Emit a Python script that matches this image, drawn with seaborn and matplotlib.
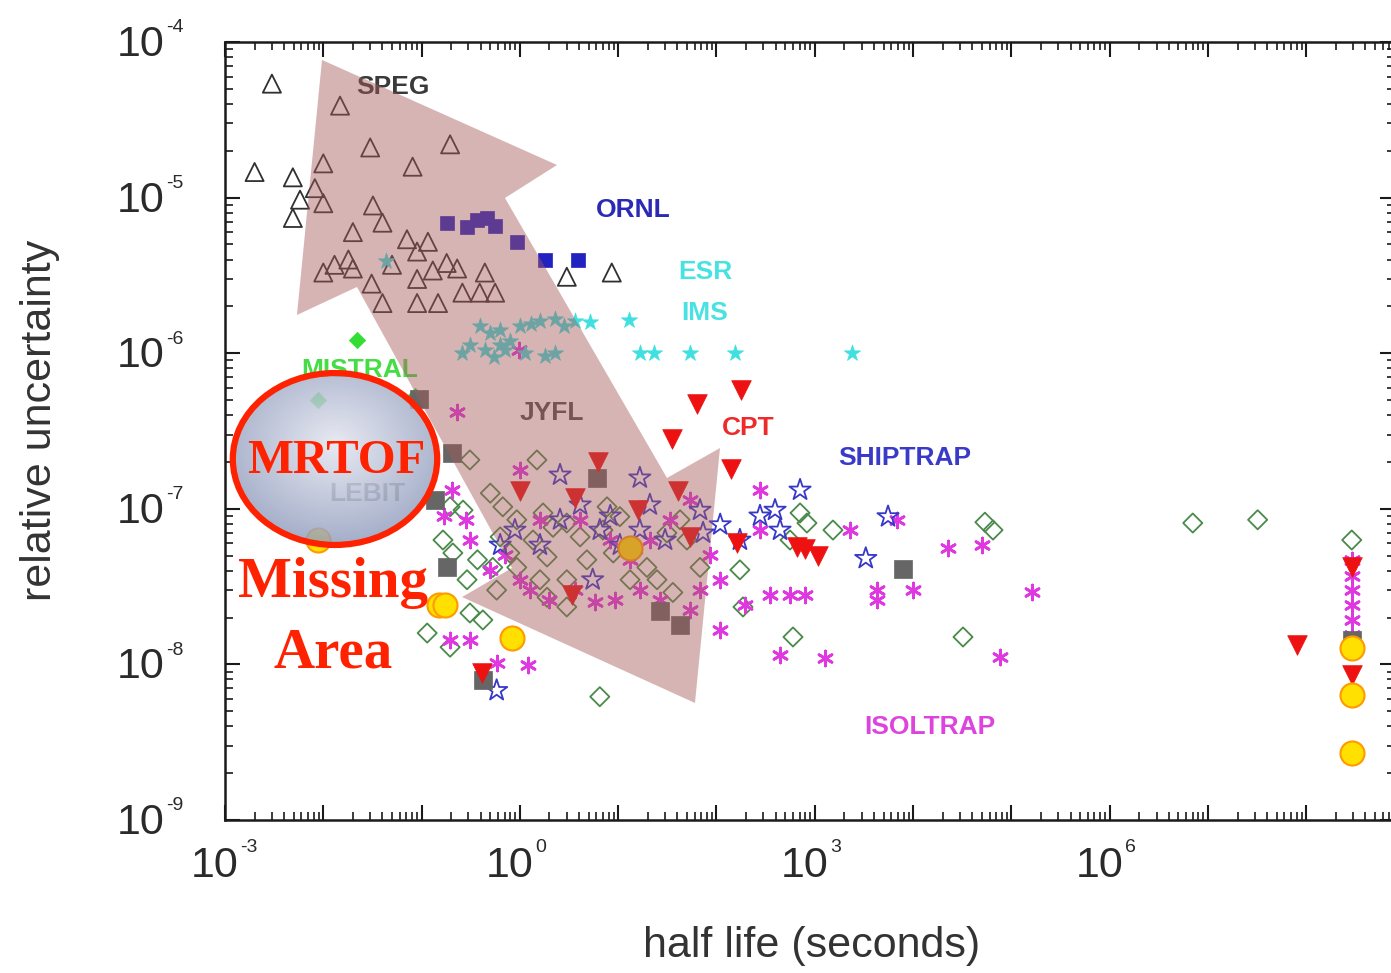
import numpy as np
import pandas as pd
import matplotlib
matplotlib.use('Agg')
import matplotlib.pyplot as plt
import matplotlib.transforms as mtransforms
from matplotlib.patches import Polygon, Ellipse
from matplotlib.ticker import LogLocator, NullFormatter
import seaborn as sns

sns.set_style('ticks')
plt.rcParams['font.family'] = ['Liberation Sans', 'DejaVu Sans']

# ---- data (half life in s, relative uncertainty) ----
speg_hl = [3.0e-3, 1.48e-2, 3.0e-2, 0.195, 1.0e-2, 0.081, 2.0e-3, 4.9e-3, 8.2e-3, 5.8e-3,
           1.0e-2, 4.9e-3, 3.2e-2, 4.0e-2, 2.0e-2, 7.1e-2, 0.116, 0.090, 1.0e-2, 1.3e-2,
           1.8e-2, 2.0e-2, 3.1e-2, 4.0e-2, 5.0e-2, 0.090, 0.090, 0.147, 0.13, 0.18,
           0.23, 0.26, 0.44, 0.39, 0.56, 3.0, 8.6]
speg_unc = [5.4e-5, 3.9e-5, 2.1e-5, 2.2e-5, 1.66e-5, 1.58e-5, 1.46e-5, 1.35e-5, 1.15e-5, 9.7e-6,
            9.2e-6, 7.4e-6, 8.9e-6, 6.9e-6, 6.0e-6, 5.4e-6, 5.2e-6, 4.5e-6, 3.3e-6, 3.7e-6,
            4.0e-6, 3.5e-6, 2.8e-6, 2.1e-6, 3.7e-6, 3.0e-6, 2.1e-6, 2.1e-6, 3.4e-6, 3.8e-6,
            3.5e-6, 2.45e-6, 3.3e-6, 2.45e-6, 2.45e-6, 3.1e-6, 3.3e-6]

ornl_hl = [0.18, 0.29, 0.37, 0.46, 0.56, 0.93, 1.8, 3.9]
ornl_unc = [6.9e-6, 6.5e-6, 7.2e-6, 7.4e-6, 6.6e-6, 5.2e-6, 4.0e-6, 4.0e-6]

esr_hl = [0.043, 0.39, 0.63, 1.0, 1.6, 2.3, 3.6, 5.2, 0.31, 0.44, 0.63, 0.80, 1.12, 1.8,
          2.3, 0.26, 13, 16.6, 23, 54, 155, 2400, 0.55, 0.7, 1.3, 0.5, 2.8]
esr_unc = [3.9e-6, 1.5e-6, 1.4e-6, 1.5e-6, 1.6e-6, 1.65e-6, 1.6e-6, 1.58e-6, 1.13e-6, 1.05e-6,
           1.13e-6, 1.2e-6, 1.0e-6, 9.6e-7, 1.0e-6, 1.0e-6, 1.63e-6, 1.0e-6, 1.0e-6, 1.0e-6,
           1.0e-6, 1.0e-6, 9.5e-7, 1.05e-6, 1.55e-6, 1.35e-6, 1.5e-6]

mistral_hl = [0.022, 8.8e-3, 0.085]
mistral_unc = [1.22e-6, 5.0e-7, 5.3e-7]

lebit_hl = [0.204, 0.137, 0.181, 0.095, 6.1, 26.6, 42.6, 7900, 0.42, 2.9e8]
lebit_unc = [2.3e-7, 1.14e-7, 4.2e-8, 5.1e-7, 1.58e-7, 2.2e-8, 1.78e-8, 4.1e-8, 7.9e-9, 1.44e-8]

jyfl_hl = [1.49, 0.31, 0.50, 0.67, 0.93, 1.72, 2.17, 1.36, 0.63, 0.79, 1.89, 3.0, 4.1, 7.7,
           10.4, 7.0, 8.9, 4.8, 14.1, 13.2, 19.6, 24.8, 42.6, 31.3, 50, 68, 36, 3.0, 1.6,
           0.93, 0.58, 3.0, 1.89, 0.195, 0.264, 0.165, 0.208, 0.37, 0.53, 0.29, 0.31, 0.42,
           0.114, 0.195, 6.5, 173, 186, 600, 1530, 708, 832, 560, 32200, 53800, 65000,
           7.0e6, 3.2e7, 2.9e8]
jyfl_unc = [2.06e-7, 2.06e-7, 1.26e-7, 1.03e-7, 8.5e-8, 9.4e-8, 7.6e-8, 6.3e-8, 6.6e-8, 5.2e-8,
            4.9e-8, 8.1e-8, 6.6e-8, 1.03e-7, 8.9e-8, 7.3e-8, 5.2e-8, 4.7e-8, 5.2e-8, 3.5e-8,
            4.2e-8, 3.5e-8, 8.5e-8, 7.0e-8, 6.3e-8, 4.2e-8, 2.9e-8, 3.5e-8, 3.5e-8, 4.2e-8,
            3.0e-8, 2.34e-8, 2.7e-8, 1.03e-7, 9.8e-8, 6.3e-8, 5.2e-8, 4.7e-8, 4.2e-8, 3.5e-8,
            2.14e-8, 1.93e-8, 1.59e-8, 1.29e-8, 6.2e-9, 4.05e-8, 2.34e-8, 1.5e-8, 7.3e-8, 9.4e-8,
            8.1e-8, 6.3e-8, 1.5e-8, 8.2e-8, 7.3e-8, 8.1e-8, 8.5e-8, 6.3e-8]

cpt_hl = [178, 63, 35, 140, 6.2, 1.0, 3.6, 40.6, 15.9, 54, 162, 660, 795, 1070, 3.4, 0.41,
          8.0e7, 2.9e8, 2.9e8]
cpt_unc = [5.8e-7, 4.7e-7, 2.8e-7, 1.8e-7, 2.0e-7, 1.3e-7, 1.18e-7, 1.3e-7, 9.8e-8, 6.6e-8,
           6.0e-8, 5.7e-8, 5.5e-8, 5.0e-8, 2.8e-8, 8.8e-9, 1.33e-8, 4.2e-8, 8.5e-9]

circ_hl = [8.8e-3, 0.15, 0.175, 0.83, 13.2, 2.9e8, 2.9e8, 2.9e8]
circ_unc = [6.3e-8, 2.4e-8, 2.4e-8, 1.48e-8, 5.6e-8, 1.27e-8, 6.4e-9, 2.7e-9]

ship_hl = [2.56, 16.6, 708, 5560, 3300, 0.58, 5.5, 2.56, 4.1, 6.5, 10.4, 21, 30, 68, 109,
           277, 443, 394, 1.6, 0.89, 0.63, 16.6, 73, 173, 8.3]
ship_unc = [1.65e-7, 1.58e-7, 1.32e-7, 8.9e-8, 4.8e-8, 6.8e-9, 3.5e-8, 8.5e-8, 1.06e-7, 7.3e-8,
            5.85e-8, 1.06e-7, 6.3e-8, 9.8e-8, 7.9e-8, 9.0e-8, 7.3e-8, 9.8e-8, 5.85e-8, 7.3e-8,
            5.85e-8, 7.3e-8, 7.0e-8, 6.3e-8, 9.0e-8]

isol_hl = [0.23, 0.98, 0.204, 109, 443, 1270, 560, 795, 350, 109, 195, 2280, 4300, 4300, 6850,
           9980, 22600, 50000, 162000, 76600, 277, 86, 68, 54, 26.6, 16.6, 9.3, 5.8, 3.6, 2.0,
           1.27, 1.0, 0.70, 0.50, 0.31, 0.28, 0.17, 1.0, 1.6, 4.1, 8.3, 13.2, 21, 33.6, 54,
           277, 0.195, 0.31, 1.21, 0.58, 2.9e8, 2.9e8, 2.9e8, 2.9e8, 2.9e8, 2.9e8]
isol_unc = [4.2e-7, 1.05e-6, 1.32e-7, 1.66e-8, 1.15e-8, 1.1e-8, 2.8e-8, 2.8e-8, 2.8e-8, 3.5e-8,
            2.4e-8, 7.3e-8, 3.0e-8, 2.6e-8, 8.5e-8, 3.0e-8, 5.6e-8, 5.85e-8, 2.9e-8, 1.12e-8,
            7.3e-8, 5.05e-8, 3.0e-8, 2.24e-8, 2.6e-8, 3.0e-8, 2.6e-8, 2.5e-8, 3.0e-8, 2.6e-8,
            3.0e-8, 3.5e-8, 5.05e-8, 4.05e-8, 6.3e-8, 8.5e-8, 9.0e-8, 1.77e-7, 8.5e-8, 8.5e-8,
            6.3e-8, 4.7e-8, 6.3e-8, 8.5e-8, 1.14e-7, 1.32e-7, 1.43e-8, 1.43e-8, 9.9e-9, 1.02e-8,
            4.7e-8, 3.7e-8, 3.0e-8, 2.4e-8, 1.93e-8, 1.55e-8]

x_decades = [-3, 0, 3, 6]
y_decades = [-4, -5, -6, -7, -8, -9]

# ---- figure ----
fig = plt.figure(figsize=(13.91, 9.73), dpi=100)
ax = fig.add_axes([0.16175, 0.15725, 0.8411, 0.7996])
ax.set_xscale('log')
ax.set_yscale('log')


def scat(x, y, marker, s, face, edge, lw=1.3, z=3):
    df = pd.DataFrame({'hl': x, 'unc': y})
    sns.scatterplot(data=df, x='hl', y='unc', ax=ax, marker=marker, s=s, color=edge,
                    facecolor=face, edgecolor=edge, linewidth=lw, zorder=z, legend=False)


scat(jyfl_hl, jyfl_unc, 'D', 95, 'none', '#4a8a4a', 1.3)
scat(isol_hl, isol_unc, (6, 2, 0), 115, '#e038e0', '#e038e0', 2.0)
scat(ship_hl, ship_unc, '*', 260, 'none', '#3838c8', 1.3)
scat(speg_hl, speg_unc, '^', 170, 'none', '#303030', 1.3)
scat(ornl_hl, ornl_unc, 's', 95, '#2222c0', '#2222c0', 0.5)
scat(esr_hl, esr_unc, '*', 150, '#40e0e0', '#40e0e0', 0.5)
scat(mistral_hl, mistral_unc, 'D', 70, '#33dd33', '#33dd33', 0.5)
scat(lebit_hl, lebit_unc, 's', 170, '#666666', '#666666', 0.5)
scat(cpt_hl, cpt_unc, 'v', 200, '#ee1111', '#ee1111', 0.5)
scat(circ_hl, circ_unc, 'o', 300, '#ffe000', '#ff9a00', 1.5)

ax.set_xlim(1e-3, 7.98e8)
ax.set_ylim(1e-9, 1e-4)
ax.set_xlabel('')
ax.set_ylabel('')

for axis in (ax.xaxis, ax.yaxis):
    axis.set_major_locator(LogLocator(base=10, numticks=30))
    axis.set_minor_locator(LogLocator(base=10, subs=np.arange(2, 10), numticks=300))
    axis.set_major_formatter(NullFormatter())
    axis.set_minor_formatter(NullFormatter())
ax.tick_params(which='both', direction='in', top=True, right=True, color='#1a1a1a')
ax.tick_params(which='major', length=11, width=1.5)
ax.tick_params(which='minor', length=5.5, width=1.2)
for sp in ax.spines.values():
    sp.set_linewidth(1.8)
    sp.set_color('#1a1a1a')

# tick labels drawn as base + small exponent
tc = '#2a2a2a'
for d in x_decades:
    t1 = mtransforms.offset_copy(ax.get_xaxis_transform(), fig=fig, x=-10, y=-46, units='dots')
    ax.text(10.0 ** d, 0, '10', transform=t1, ha='center', va='center', fontsize=31,
            color=tc, clip_on=False)
    t2 = mtransforms.offset_copy(ax.get_xaxis_transform(), fig=fig, x=15, y=-28, units='dots')
    ax.text(10.0 ** d, 0, str(d), transform=t2, ha='left', va='center', fontsize=14,
            color=tc, clip_on=False)
for d in y_decades:
    t1 = mtransforms.offset_copy(ax.get_yaxis_transform(), fig=fig, x=-60, y=-3, units='dots')
    ax.text(0, 10.0 ** d, '10', transform=t1, ha='right', va='center', fontsize=31,
            color=tc, clip_on=False)
    t2 = mtransforms.offset_copy(ax.get_yaxis_transform(), fig=fig, x=-59, y=14, units='dots')
    ax.text(0, 10.0 ** d, str(d), transform=t2, ha='left', va='center', fontsize=14,
            color=tc, clip_on=False)

fig.text(40 / 1391, 1 - 420 / 973, 'relative uncertainty', rotation=90, ha='center',
         va='center', fontsize=31, color='#333333')
fig.text(812 / 1391, 1 - 946 / 973, 'half life (seconds)', ha='center', va='center',
         fontsize=31, color='#333333')

# facility labels
labels = [('SPEG', 0.1436, 0.9422, '#3a3a3a'), ('ORNL', 0.3487, 0.7841, '#2a2ab4'),
          ('ESR', 0.4103, 0.7044, '#48e2e2'), ('IMS', 0.4103, 0.6517, '#48e2e2'),
          ('MISTRAL', 0.1154, 0.5784, '#44dd44'), ('JYFL', 0.2795, 0.5231, '#505050'),
          ('CPT', 0.4470, 0.5039, '#ee2a2a'), ('SHIPTRAP', 0.5812, 0.4653, '#3a3ac8'),
          ('LEBIT', 0.1214, 0.4190, '#7a7a7a'), ('ISOLTRAP', 0.6026, 0.1195, '#dd44dd')]
for txt, fx, fy, col in labels:
    ax.text(fx, fy, txt, transform=ax.transAxes, ha='center', va='center', fontsize=19,
            fontweight='bold', color=col, zorder=4)

# double-headed arrow overlay (axes fraction)
arrow_pts = [(0.0829, 0.9769), (0.2838, 0.8419), (0.2393, 0.7995), (0.3778, 0.4396),
             (0.4231, 0.4781), (0.4017, 0.1504), (0.2026, 0.2866), (0.2453, 0.3239),
             (0.1128, 0.6851), (0.0615, 0.6491)]
ax.add_patch(Polygon(arrow_pts, closed=True, transform=ax.transAxes, facecolor='#a85a5a',
                     edgecolor='none', alpha=0.45, zorder=6))

# MRTOF ellipse overlay
ov = fig.add_axes([228 / 1391, 1 - 549 / 973, 214 / 1391, 180 / 973])
ov.set_xlim(0, 1)
ov.set_ylim(0, 1)
ov.axis('off')
gx, gy = np.meshgrid(np.linspace(0, 1, 200), np.linspace(0, 1, 200))
r = np.clip(np.sqrt((gx - 0.5) ** 2 + (gy - 0.58) ** 2) / 0.62, 0, 1)
c0 = np.array([0.89, 0.90, 0.94])
c1 = np.array([0.53, 0.58, 0.72])
img = c0[None, None, :] * (1 - r[..., None]) + c1[None, None, :] * r[..., None]
ell = Ellipse((0.5, 0.5), 0.955, 0.955, facecolor='none', edgecolor='#ff2200', linewidth=4.5,
              transform=ov.transAxes, zorder=3)
im = ov.imshow(img, extent=(0, 1, 0, 1), origin='lower', aspect='auto', alpha=0.82, zorder=1)
clip = Ellipse((0.5, 0.5), 0.955, 0.955, transform=ov.transAxes, facecolor='none',
               edgecolor='none')
ov.add_patch(clip)
im.set_clip_path(clip)
ov.add_patch(ell)

red = '#ff2200'
fig.text(336 / 1391, 1 - 461 / 973, 'MRTOF', ha='center', va='center', fontsize=35,
         fontweight='bold', family='Liberation Serif', color=red)
fig.text(333 / 1391, 1 - 583 / 973, 'Missing', ha='center', va='center', fontsize=41,
         fontweight='bold', family='Liberation Serif', color=red)
fig.text(333 / 1391, 1 - 653 / 973, 'Area', ha='center', va='center', fontsize=41,
         fontweight='bold', family='Liberation Serif', color=red)

fig.savefig('out.png', dpi=100)
